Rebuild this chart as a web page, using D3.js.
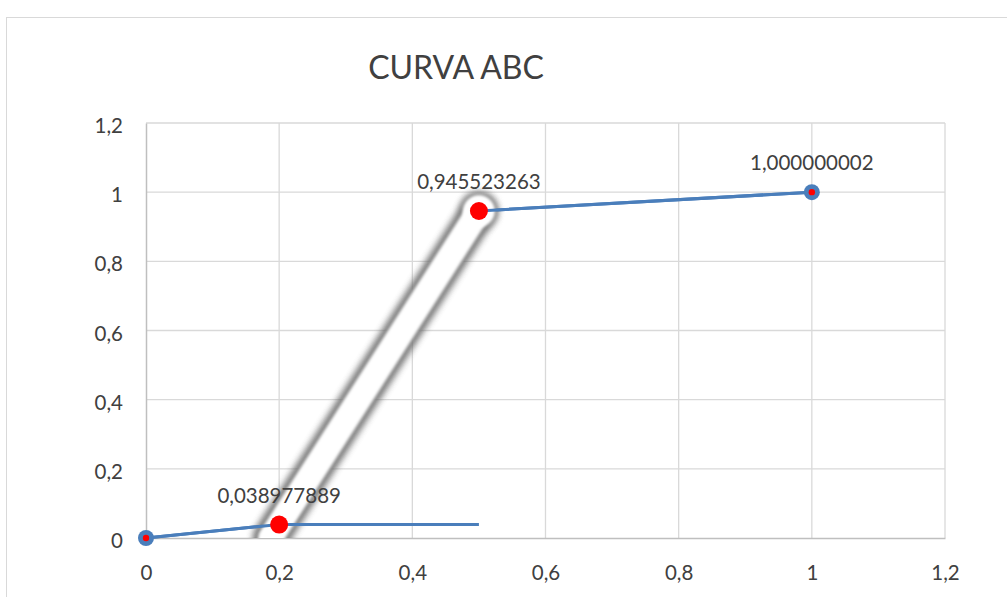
<!DOCTYPE html>
<html><head><meta charset="utf-8">
<script src="https://cdn.jsdelivr.net/npm/d3@7"></script>
<style>html,body{margin:0;padding:0;background:#fff;} svg{display:block;}</style>
</head><body>
<script>
const title = "CURVA ABC";
const xValues = [0, 0.2, 0.5, 1];
const yValues = [0, 0.038977889, 0.945523263, 1.000000002];
const labels = ["", "0,038977889", "0,945523263", "1,000000002"];
const markerType = ["small", "big", "big", "small"];
const flatX = [0.2, 0.5];
const flatY = [0.038977889, 0.038977889];
const glowIdx = [1, 2];
const ticks = [0, 0.2, 0.4, 0.6, 0.8, 1, 1.2];
const tickLabels = ["0", "0,2", "0,4", "0,6", "0,8", "1", "1,2"];

const W = 1007, H = 597;
const svg = d3.select("body").append("svg").attr("width", W).attr("height", H);
const font = "Lato, 'Open Sans', sans-serif";
const fs = 20.5;

svg.append("rect").attr("x", 6.5).attr("y", 17.5).attr("width", W + 20).attr("height", H + 20)
  .attr("fill", "#fff").attr("stroke", "#d9d9d9").attr("stroke-width", 1);

const x = d3.scaleLinear().domain([0, 1.2]).range([146, 945]);
const y = d3.scaleLinear().domain([0, 1.2]).range([538, 123]);

const defs = svg.append("defs");
const f = defs.append("filter").attr("id", "glow").attr("x", "-50%").attr("y", "-50%").attr("width", "200%").attr("height", "200%");
f.append("feGaussianBlur").attr("stdDeviation", 3);
const f2 = defs.append("filter").attr("id", "soft").attr("x", "-50%").attr("y", "-50%").attr("width", "200%").attr("height", "200%");
f2.append("feGaussianBlur").attr("stdDeviation", 1.8);
defs.append("clipPath").attr("id", "plot").append("rect")
  .attr("x", x(0) - 40).attr("y", y(1.2) - 40).attr("width", x(1.2) - x(0) + 80).attr("height", y(0) - y(1.2) + 40);

// gridlines
const grid = svg.append("g");
grid.selectAll(".gx").data(ticks.slice(1)).join("line")
  .attr("x1", d => x(d)).attr("x2", d => x(d)).attr("y1", y(0)).attr("y2", y(1.2))
  .attr("stroke", "#d9d9d9").attr("stroke-width", 1.3);
grid.selectAll(".gy").data(ticks.slice(1)).join("line")
  .attr("y1", d => y(d)).attr("y2", d => y(d)).attr("x1", x(0)).attr("x2", x(1.2))
  .attr("stroke", "#d9d9d9").attr("stroke-width", 1.3);

// axes
const xAxis = svg.append("g").attr("transform", `translate(0,${y(0)})`)
  .call(d3.axisBottom(x).tickValues(ticks).tickSize(0).tickPadding(27).tickFormat((d, i) => tickLabels[i]));
const yAxis = svg.append("g").attr("transform", `translate(${x(0)},0)`)
  .call(d3.axisLeft(y).tickValues(ticks).tickSize(0).tickPadding(23).tickFormat((d, i) => tickLabels[i]));
[xAxis, yAxis].forEach(a => {
  a.select(".domain").attr("stroke", "#bfbfbf").attr("stroke-width", 1.5);
  a.selectAll("text").attr("font-family", font).attr("font-size", fs).attr("fill", "#404040");
});
yAxis.selectAll("text").attr("dy", "0.47em");

const pts = xValues.map((v, i) => ({x: v, y: yValues[i], label: labels[i], m: markerType[i]}));
const line = d3.line().x(d => x(d.x)).y(d => y(d.y));

// main line
svg.append("path").datum(pts).attr("d", line).attr("fill", "none")
  .attr("stroke", "#4a7ebb").attr("stroke-width", 3);

// glow highlight segment (extended down to the axis, clipped to plot)
const a = pts[glowIdx[0]], b = pts[glowIdx[1]];
const t = (0 - a.y) / (b.y - a.y);
const start = {x: a.x + t * (b.x - a.x), y: 0};
const gseg = [start, b];
const gg = svg.append("g").attr("clip-path", "url(#plot)");
gg.append("path").datum(gseg).attr("d", line).attr("fill", "none")
  .attr("stroke", "#6a6a6a").attr("stroke-width", 36).attr("stroke-linecap", "round")
  .attr("filter", "url(#glow)").attr("opacity", 0.9);
gg.append("circle").attr("cx", x(b.x)).attr("cy", y(b.y)).attr("r", 20)
  .attr("fill", "#7a7a7a").attr("filter", "url(#glow)").attr("opacity", 0.6);
gg.append("path").datum(gseg).attr("d", line).attr("fill", "none")
  .attr("stroke", "#ffffff").attr("stroke-width", 25).attr("stroke-linecap", "round")
  .attr("filter", "url(#soft)");
gg.append("circle").attr("cx", x(b.x)).attr("cy", y(b.y)).attr("r", 16)
  .attr("fill", "#ffffff").attr("filter", "url(#soft)");

// flat segment
const flat = flatX.map((v, i) => ({x: v, y: flatY[i]}));
svg.append("path").datum(flat).attr("d", line).attr("fill", "none")
  .attr("stroke", "#4a7ebb").attr("stroke-width", 3);

// blue segment into the last point
svg.append("path").datum([pts[2], pts[3]]).attr("d", line).attr("fill", "none")
  .attr("stroke", "#4a7ebb").attr("stroke-width", 3);
// redraw first segment
svg.append("path").datum([pts[0], pts[1]]).attr("d", line).attr("fill", "none")
  .attr("stroke", "#4a7ebb").attr("stroke-width", 3);

// markers
const mk = svg.append("g");
pts.forEach(p => {
  if (p.m === "small") {
    mk.append("circle").attr("cx", x(p.x)).attr("cy", y(p.y)).attr("r", 8).attr("fill", "#4a7ebb");
    mk.append("circle").attr("cx", x(p.x)).attr("cy", y(p.y)).attr("r", 3.2).attr("fill", "#ff0000");
  } else {
    mk.append("circle").attr("cx", x(p.x)).attr("cy", y(p.y)).attr("r", 9).attr("fill", "#ff0000");
  }
});

// data labels
svg.append("g").selectAll("text").data(pts.filter(p => p.label)).join("text")
  .attr("x", d => x(d.x)).attr("y", d => y(d.y) - 22)
  .attr("text-anchor", "middle").attr("font-family", font).attr("font-size", fs).attr("fill", "#404040")
  .text(d => d.label);

// title
svg.append("text").attr("x", 456).attr("y", 79).attr("text-anchor", "middle")
  .attr("font-family", font).attr("font-size", 32).attr("fill", "#404040").text(title);
</script>
</body></html>
